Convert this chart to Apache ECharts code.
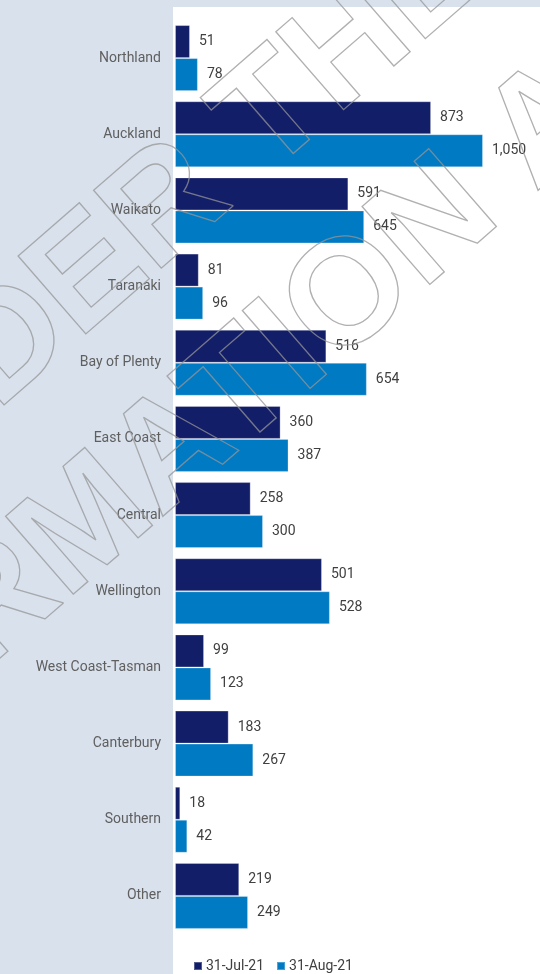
<!DOCTYPE html>
<html>
<head>
<meta charset="utf-8">
<style>
  html, body { margin: 0; padding: 0; background: #d9e1ec; }
  #chart { width: 540px; height: 974px; }
</style>
<script src="https://cdn.jsdelivr.net/npm/echarts@6/dist/echarts.min.js"></script>
</head>
<body>
<div id="chart"></div>
<script>
// Regions, top to bottom
const regions = [
  'Northland', 'Auckland', 'Waikato', 'Taranaki', 'Bay of Plenty', 'East Coast',
  'Central', 'Wellington', 'West Coast-Tasman', 'Canterbury', 'Southern', 'Other'
];
const seriesNames = ['31-Jul-21', '31-Aug-21'];
const julValues = [51, 873, 591, 81, 516, 360, 258, 501, 99, 183, 18, 219];
const augValues = [78, 1050, 645, 96, 654, 387, 300, 528, 123, 267, 42, 249];
const watermarkLines = ['RELEASED UNDER THE', 'OFFICIAL INFORMATION ACT'];

const chart = echarts.init(document.getElementById('chart'), null, { renderer: 'canvas' });

const fmt = v => v.toLocaleString('en-US');
const labelStyle = {
  show: true,
  position: 'right',
  distance: 9,
  color: '#404040',
  fontFamily: 'Roboto',
  fontSize: 14,
  formatter: p => fmt(p.value)
};

// Outlined diagonal watermark drawn over the plot
const angle = 41 * Math.PI / 180;
const wmStyle = {
  font: 'bold 150px "Liberation Sans"',
  fill: 'transparent',
  stroke: 'rgba(150,150,150,0.75)',
  lineWidth: 1.3,
  align: 'center',
  verticalAlign: 'middle'
};

chart.setOption({
  backgroundColor: '#d9e1ec',
  animation: false,
  grid: { left: 175, right: 13, top: 20, bottom: 40, containLabel: false },
  xAxis: {
    type: 'value',
    min: 0,
    max: 1200,
    show: false
  },
  yAxis: {
    type: 'category',
    data: regions,
    inverse: true,
    axisLine: { show: false },
    axisTick: { show: false },
    axisLabel: {
      margin: 14,
      color: '#5f5f5f',
      fontFamily: 'Roboto',
      fontSize: 14
    }
  },
  legend: {
    data: seriesNames,
    left: 193,
    bottom: 1,
    padding: 0,
    itemWidth: 8,
    itemHeight: 8,
    itemGap: 12,
    icon: 'rect',
    textStyle: { color: '#404040', fontFamily: 'Roboto', fontSize: 14, padding: [0, 0, 0, -1] }
  },
  graphic: [
    {
      type: 'rect',
      z: -10,
      silent: true,
      shape: { x: 173, y: 7, width: 367, height: 967 },
      style: { fill: '#ffffff' }
    },
    {
      type: 'text',
      z: 100,
      silent: true,
      x: -188, y: 517,
      rotation: angle,
      style: Object.assign({ text: watermarkLines[0] }, wmStyle)
    },
    {
      type: 'text',
      z: 100,
      silent: true,
      x: -63, y: 658,
      rotation: angle,
      style: Object.assign({ text: watermarkLines[1] }, wmStyle)
    }
  ],
  series: [
    {
      name: seriesNames[0],
      type: 'bar',
      data: julValues,
      barWidth: 33,
      barGap: '0%',
      itemStyle: { color: '#131e69', borderColor: 'rgba(255,255,255,0.28)', borderWidth: 1 },
      label: labelStyle
    },
    {
      name: seriesNames[1],
      type: 'bar',
      data: augValues,
      barWidth: 33,
      barGap: '0%',
      itemStyle: { color: '#007ac3', borderColor: 'rgba(255,255,255,0.28)', borderWidth: 1 },
      label: labelStyle
    }
  ]
});
</script>
</body>
</html>
